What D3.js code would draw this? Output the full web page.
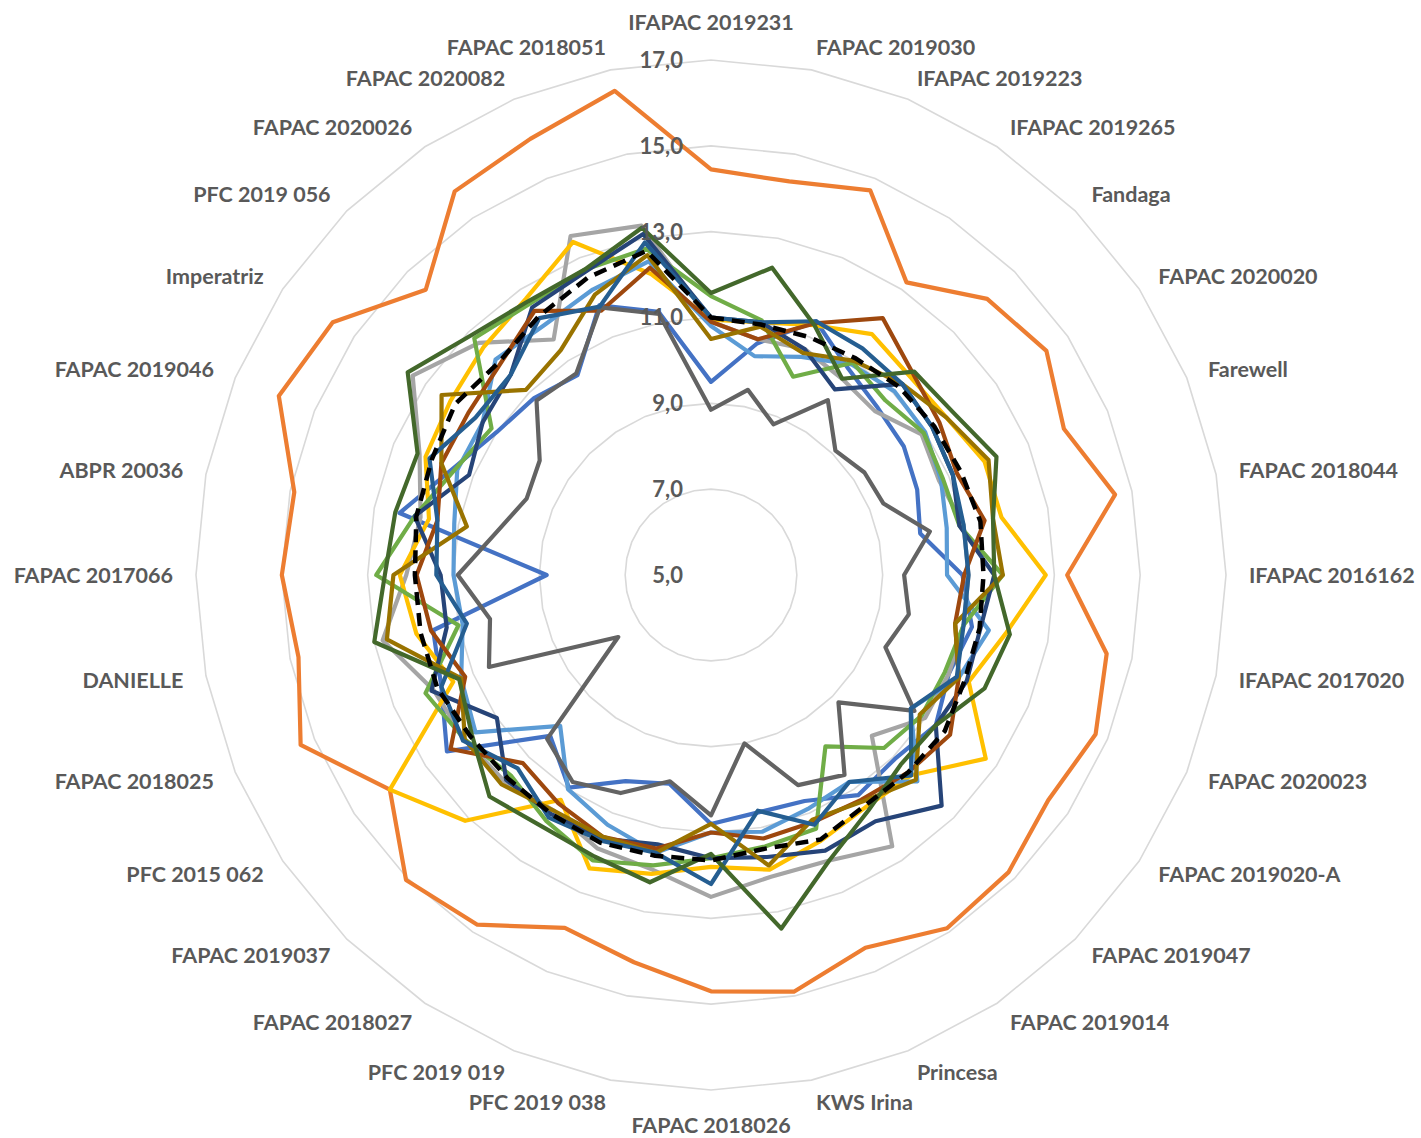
<!DOCTYPE html>
<html>
<head>
<meta charset="utf-8">
<script src="https://cdn.jsdelivr.net/npm/d3@7"></script>
<style>
  html, body { margin: 0; padding: 0; background: #ffffff; }
  svg { display: block; }
  .lbl { font-family: Lato, "Liberation Sans", sans-serif; font-weight: bold; fill: #595959; }
</style>
</head>
<body>
<svg id="chart" width="1421" height="1138"></svg>
<script>
// Categories, clockwise from the top
const categories = [
  "IFAPAC 2019231", "FAPAC 2019030", "IFAPAC 2019223", "IFAPAC 2019265", "Fandaga",
  "FAPAC 2020020", "Farewell", "FAPAC 2018044", "IFAPAC 2016162", "IFAPAC 2017020",
  "FAPAC 2020023", "FAPAC 2019020-A", "FAPAC 2019047", "FAPAC 2019014", "Princesa",
  "KWS Irina", "FAPAC 2018026", "PFC 2019 038", "PFC 2019 019", "FAPAC 2018027",
  "FAPAC 2019037", "PFC 2015 062", "FAPAC 2018025", "DANIELLE", "FAPAC 2017066",
  "ABPR 20036", "FAPAC 2019046", "Imperatriz", "PFC 2019 056", "FAPAC 2020026",
  "FAPAC 2020082", "FAPAC 2018051"
];

// Radial axis ticks
const tickValues = [5, 7, 9, 11, 13, 15, 17];

// One array per series, in category order
const series1 = [9.5, 10.5, 11.4, 10.77, 10.5, 10.4, 10.2, 9.97, 10.86, 11.2, 11.0, 11.3, 11.06, 11.17, 10.7, 10.64,
                 10.8, 9.96, 10.2, 10.96, 10.3, 12.4, 11.8, 11.6, 8.83, 12.4, 11.5, 11.0, 10.83, 10.6, 11.8, 11.25];
const series2 = [14.45, 14.35, 14.7, 13.2, 14.1, 14.4, 13.9, 14.6, 13.3, 14.4, 14.7, 14.45, 14.8, 14.9, 14.4, 14.9,
                 14.7, 14.2, 13.9, 14.8, 15.05, 14.0, 15.35, 14.8, 15.0, 14.9, 15.9, 15.6, 14.4, 15.75, 16.0, 16.5];
const series3 = [10.9, 10.6, 10.7, 10.5, 10.4, 10.9, 10.75, 11.0, 11.0, 11.0, 11.0, 11.0, 10.3, 12.6, 12.2, 12.17,
                 12.5, 12.0, 11.9, 11.6, 11.8, 11.9, 12.0, 12.8, 12.1, 11.9, 12.35, 13.36, 12.65, 11.6, 13.55, 13.3];
const series4 = [10.95, 11.0, 11.3, 11.75, 11.55, 11.6, 11.9, 11.9, 12.8, 12.0, 11.5, 12.7, 11.6, 11.5, 11.7, 12.0,
                 11.8, 12.1, 12.4, 11.3, 13.1, 14.0, 11.5, 12.0, 12.25, 11.7, 12.2, 12.3, 12.5, 12.75, 13.4, 12.15];
const series5 = [10.8, 10.2, 10.5, 10.9, 11.05, 11.0, 10.8, 10.6, 10.5, 11.6, 11.25, 10.6, 11.8, 10.8, 10.9, 11.1,
                 11.0, 11.6, 11.3, 11.0, 9.97, 11.6, 11.3, 10.9, 11.0, 11.1, 11.4, 11.4, 12.1, 12.0, 12.2, 12.45];
const series6 = [11.5, 11.05, 10.0, 10.95, 10.75, 10.96, 10.85, 10.9, 11.8, 11.0, 10.9, 10.9, 10.7, 9.8, 11.4, 11.45,
                 11.6, 11.9, 12.2, 11.9, 11.6, 11.9, 12.2, 11.0, 12.8, 12.04, 11.45, 11.15, 12.8, 12.6, 12.7, 12.75];
const series7 = [11.0, 11.0, 10.7, 10.2, 11.3, 11.2, 11.1, 10.9, 11.6, 11.4, 11.45, 11.3, 12.6, 11.9, 11.95, 11.7,
                 11.6, 11.4, 11.65, 11.7, 11.75, 11.0, 12.05, 11.28, 11.3, 12.04, 11.1, 11.4, 11.6, 12.5, 12.65, 13.1];
const series8 = [10.9, 10.6, 11.35, 12.2, 11.65, 11.4, 11.2, 11.5, 10.9, 10.8, 11.25, 11.7, 11.5, 11.3, 11.23, 11.26,
                 11.0, 11.5, 11.6, 11.4, 11.2, 12.3, 11.2, 11.65, 11.86, 11.5, 11.8, 11.8, 11.95, 12.4, 11.67, 12.3];
const series9 = [8.85, 9.4, 8.8, 9.9, 9.1, 9.3, 9.35, 10.2, 9.5, 9.7, 9.4, 10.7, 9.2, 10.6, 10.3, 9.0,
                 10.6, 9.9, 10.5, 10.8, 10.4, 7.6, 10.6, 10.25, 10.9, 10.1, 9.65, 9.8, 10.75, 10.65, 11.75, 11.2];
const series10 = [10.5, 10.9, 10.6, 11.0, 11.3, 11.6, 12.0, 11.7, 11.8, 10.8, 11.25, 10.85, 11.75, 11.35, 11.17, 11.9,
                  10.8, 11.6, 11.6, 11.6, 11.9, 11.9, 11.3, 12.7, 12.4, 10.8, 11.8, 12.55, 11.1, 11.3, 12.07, 12.6];
const series11 = [11.0, 11.0, 11.4, 11.35, 11.3, 11.2, 11.1, 11.0, 11.0, 11.0, 11.2, 10.6, 11.6, 10.8, 11.3, 10.6,
                  12.2, 11.6, 11.7, 11.8, 11.37, 11.95, 11.8, 10.8, 11.4, 11.5, 12.1, 11.6, 11.6, 12.2, 11.77, 12.9];
const series12 = [11.57, 12.3, 11.3, 10.5, 11.7, 11.8, 12.2, 11.7, 11.6, 12.1, 11.9, 11.3, 11.25, 11.6, 12.2, 13.4,
                  11.5, 12.3, 12.1, 12.06, 12.3, 11.7, 11.35, 13.0, 12.6, 12.5, 12.4, 13.5, 12.9, 12.67, 12.7, 13.25];
const meanSeries = [11.0, 10.95, 11.0, 11.07, 11.2, 11.25, 11.3, 11.4, 11.35, 11.38, 11.4, 11.55, 11.5, 11.46, 11.67, 11.5,
                    11.65, 11.67, 11.75, 11.7, 11.7, 11.75, 11.9, 11.9, 11.9, 12.0, 12.04, 12.17, 12.0, 12.24, 12.5, 12.7];

const seriesList = [series1, series2, series3, series4, series5, series6,
                    series7, series8, series9, series10, series11, series12];
const seriesColors = ["#4472C4", "#ED7D31", "#A5A5A5", "#FFC000", "#5B9BD5", "#70AD47",
                      "#264478", "#9E480E", "#636363", "#997300", "#255E91", "#43682B"];

const width = 1421, height = 1138;
const cx = 711, cy = 575;
const n = categories.length;

const svg = d3.select("#chart");
svg.append("rect").attr("width", width).attr("height", height).attr("fill", "#ffffff");
const g = svg.append("g").attr("transform", `translate(${cx},${cy})`);

const r = d3.scaleLinear().domain([5, 17]).range([0, 515]);
const angle = d3.scaleLinear().domain([0, n]).range([0, 2 * Math.PI]);

const radial = d3.lineRadial()
  .angle((d, i) => angle(i))
  .radius(d => r(d))
  .curve(d3.curveLinearClosed);

const fmt = d3.formatLocale({ decimal: ",", thousands: ".", grouping: [3], currency: ["", ""] }).format(".1f");

// Grid rings (polygons through every category)
g.append("g").selectAll("path")
  .data(tickValues.filter(t => t > 5))
  .join("path")
  .attr("d", t => radial(categories.map(() => t)))
  .attr("fill", "none")
  .attr("stroke", "#D9D9D9")
  .attr("stroke-width", 1.6);

// Series lines
g.append("g").selectAll("path")
  .data(seriesList)
  .join("path")
  .attr("d", d => radial(d))
  .attr("fill", "none")
  .attr("stroke", (d, i) => seriesColors[i])
  .attr("stroke-width", 4.2)
  .attr("stroke-linejoin", "round");

// Mean line, dashed on top
g.append("path")
  .attr("d", radial(meanSeries))
  .attr("fill", "none")
  .attr("stroke", "#000000")
  .attr("stroke-width", 4.5)
  .attr("stroke-dasharray", "13,8")
  .attr("stroke-linejoin", "round");

// Radial tick labels
g.append("g").selectAll("text")
  .data(tickValues)
  .join("text")
  .attr("class", "lbl")
  .attr("x", -28)
  .attr("y", t => -r(t))
  .attr("dy", "0.36em")
  .attr("text-anchor", "end")
  .style("font-size", "22px")
  .text(t => fmt(t));

// Category labels
const labelR = 538;
g.append("g").selectAll("text")
  .data(categories)
  .join("text")
  .attr("class", "lbl")
  .style("font-size", "21.5px")
  .each(function (d, i) {
    const a = angle(i);
    const sx = Math.sin(a), sy = -Math.cos(a);
    const x = sx * labelR, y = sy * labelR;
    const t = d3.select(this);
    let anchor = "middle";
    if (sx > 0.01) anchor = "start";
    else if (sx < -0.01) anchor = "end";
    let dy = "0.36em";
    let yy = y;
    if (i === 0) { yy = -545; dy = "0"; }
    if (i === n / 2) { yy = 558; dy = "0"; }
    t.attr("x", x).attr("y", yy).attr("dy", dy).attr("text-anchor", anchor).text(d);
  });
</script>
</body>
</html>
